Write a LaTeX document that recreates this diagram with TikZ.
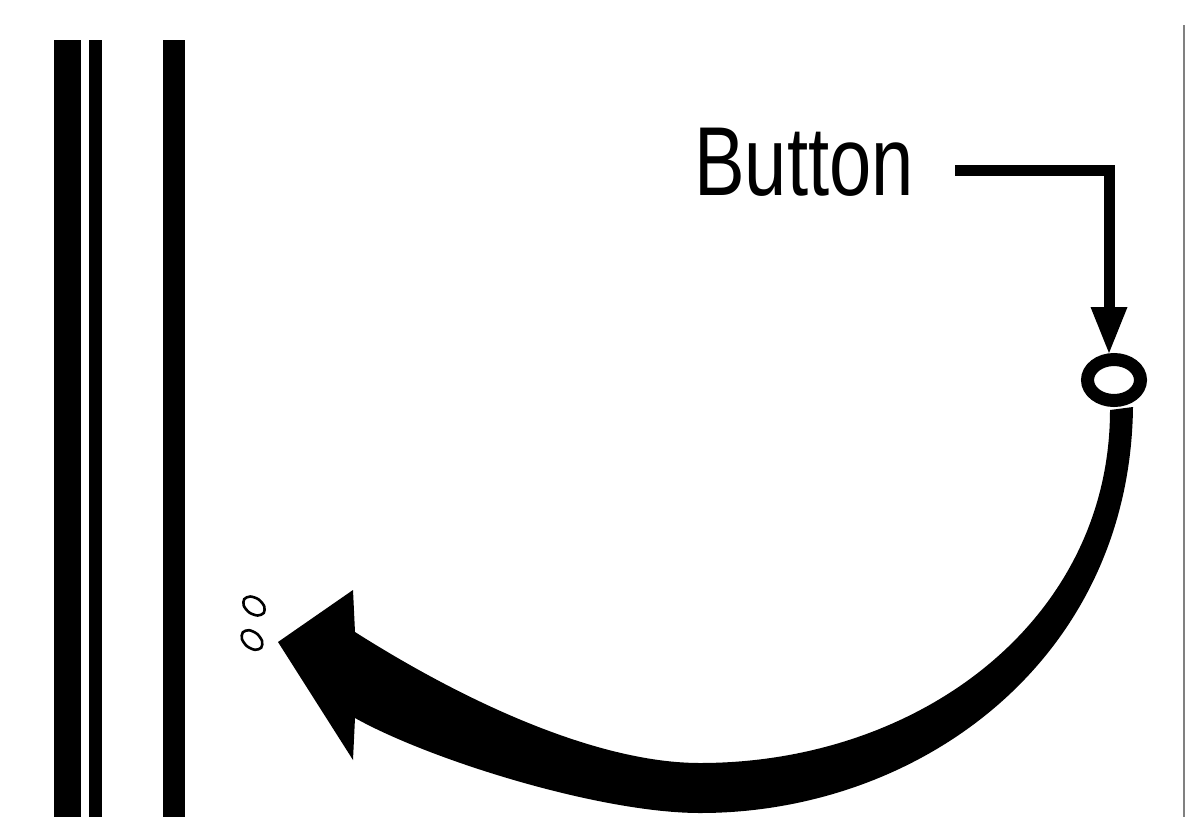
\documentclass[tikz,border=0pt]{standalone}
\usepackage{fontspec}
\setmainfont{Liberation Sans}
\usetikzlibrary{arrows.meta,shapes.geometric}
\tikzset{
  bar/.style={fill=black},
  label/.style={anchor=base west, inner sep=0pt, font=\fontsize{98}{98}\selectfont, xscale=0.775},
  leader/.style={line width=11pt, -{Triangle[length=46pt,width=37pt,line width=0pt]}},
  ring/.style={draw, ellipse, line width=13pt, minimum width=53pt, minimum height=41pt, inner sep=0pt},
  dot/.style={line width=2.6pt},
}
\begin{document}
\begin{tikzpicture}[x=1pt,y=-1pt]
\useasboundingbox (0,0) rectangle (1185,817);
% vertical bars
\fill[bar] (54,40) rectangle (81,817);
\fill[bar] (89,40) rectangle (102,817);
\fill[bar] (163,40) rectangle (185,817);
% right frame line
\draw[gray, line width=1.5pt] (1184.2,25) -- (1184.2,817);
% label
\node[label] (btn) at (694,195) {Button};
\coordinate (lstart) at (955,170);
\coordinate (corner) at (1109,170);
\node[ring] (ring) at (1114,380) {};
\coordinate (ringtop) at (1109,353);
\draw[leader] (lstart) -- (corner) -- (ringtop);
% big curved arrow
\fill (1110,410) -- (1133,407)
  .. controls (1130,660) and (920,813) .. (700,813)
  .. controls (600,813) and (430,760) .. (355,718)
  -- (353,760) -- (278,642) -- (353,590) -- (355,632)
  .. controls (470,705) and (600,763) .. (700,763)
  .. controls (920,763) and (1110,620) .. cycle;
% small marks
\draw[dot] plot[smooth cycle] coordinates {(263.8,612.9) (257.7,615.5) (249.4,612.6) (243.8,605.8) (244.2,599.1) (250.3,596.5) (258.6,599.4) (264.2,606.2)};
\draw[dot] plot[smooth cycle] coordinates {(261.2,647.7) (254.9,649.8) (246.9,646.1) (241.9,638.9) (242.8,632.3) (249.1,630.2) (257.1,633.9) (262.1,641.1)};
\end{tikzpicture}
\end{document}
